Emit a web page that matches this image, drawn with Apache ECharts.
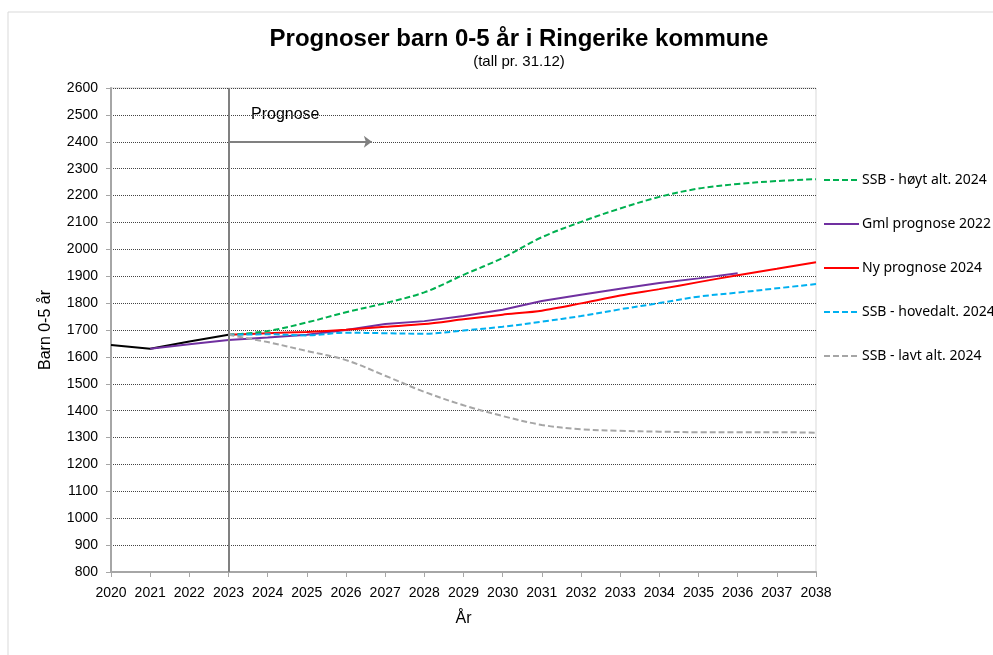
<!DOCTYPE html>
<html>
<head>
<meta charset="utf-8">
<script src="https://cdn.jsdelivr.net/npm/echarts@6/dist/echarts.min.js"></script>
<style>
  html, body { margin: 0; padding: 0; background: #fff; }
  #chart { width: 993px; height: 655px; }
</style>
</head>
<body>
<div id="chart"></div>
<script>
const years = [2020, 2021, 2022, 2023, 2024, 2025, 2026, 2027, 2028, 2029, 2030, 2031, 2032, 2033, 2034, 2035, 2036, 2037, 2038];

// historisk (2020-2023)
const faktisk = [1644, 1630, 1657, 1682];
// Gml prognose 2022 (2021-2036)
const gmlPrognose = [null, 1630, 1647, 1663, 1672, 1682, 1700, 1722, 1733, 1752, 1775, 1808, 1831, 1853, 1875, 1892, 1911];
// Ny prognose 2024 (2023-2038)
const nyPrognose = [null, null, null, 1682, 1688, 1693, 1701, 1712, 1722, 1740, 1757, 1772, 1799, 1828, 1852, 1878, 1904, 1928, 1952];
const ssbHoy = [null, null, null, 1682, 1696, 1728, 1766, 1800, 1840, 1905, 1968, 2045, 2102, 2152, 2195, 2226, 2243, 2254, 2261];
const ssbHoved = [null, null, null, 1682, 1684, 1680, 1690, 1688, 1686, 1698, 1712, 1731, 1752, 1777, 1800, 1824, 1839, 1855, 1871];
const ssbLav = [null, null, null, 1682, 1655, 1622, 1588, 1530, 1470, 1420, 1380, 1347, 1331, 1325, 1322, 1320, 1320, 1320, 1318];

const pairs = arr => years.slice(0, arr.length).map((y, i) => [y, arr[i]]).filter(p => p[1] !== null);

const font = 'Liberation Sans, Arial, sans-serif';
const chart = echarts.init(document.getElementById('chart'));

const dashed = (name, color, data) => ({
  name: name,
  type: 'line',
  data: pairs(data),
  smooth: 0.35,
  symbol: 'none',
  lineStyle: { color: color, width: 2, type: [6, 3] },
  itemStyle: { color: color }
});

let option = {
  animation: false,
  title: {
    text: 'Prognoser barn 0-5 år i Ringerike kommune',
    subtext: '(tall pr. 31.12)',
    left: 514,
    top: 22,
    textAlign: 'center',
    itemGap: 3,
    textStyle: { fontFamily: font, fontSize: 24, fontWeight: 'bold', color: '#000' },
    subtextStyle: { fontFamily: font, fontSize: 15, color: '#000' }
  },
  graphic: [
    { type: 'rect', shape: { x: 8, y: 12, width: 1000, height: 700 }, style: { fill: 'none', stroke: '#d9d9d9', lineWidth: 1 }, silent: true },
    { type: 'text', left: 251, top: 107, style: { text: 'Prognose', fontFamily: font, fontSize: 16, fill: '#000' } }
  ],
  legend: {
    orient: 'vertical',
    left: 823,
    top: 173,
    padding: 0,
    itemWidth: 35,
    itemHeight: 16,
    itemGap: 30,
    itemStyle: { opacity: 0 },
    textStyle: { fontFamily: 'Noto Sans, Open Sans, sans-serif', fontSize: 14, color: '#000', padding: [0, 0, 0, -2] },
    data: ['SSB - høyt alt. 2024', 'Gml prognose 2022', 'Ny prognose 2024', 'SSB - hovedalt. 2024', 'SSB - lavt alt. 2024']
  },
  grid: { left: 111, right: 177, top: 88, bottom: 83, containLabel: false, show: true, borderColor: '#d9d9d9', borderWidth: 1 },
  xAxis: {
    type: 'value',
    min: 2020,
    max: 2038,
    interval: 1,
    name: 'År',
    nameLocation: 'middle',
    nameGap: 39,
    nameTextStyle: { fontFamily: font, fontSize: 16, color: '#000' },
    axisLine: { show: true, lineStyle: { color: '#a6a6a6', width: 2 } },
    axisTick: { show: true, length: 5, lineStyle: { color: '#a6a6a6' } },
    axisLabel: { fontFamily: font, fontSize: 14, color: '#000', margin: 14, formatter: v => String(v) },
    splitLine: { show: false }
  },
  yAxis: {
    type: 'value',
    min: 800,
    max: 2600,
    interval: 100,
    name: 'Barn 0-5 år',
    nameLocation: 'middle',
    nameGap: 57,
    nameTextStyle: { fontFamily: font, fontSize: 16, color: '#000' },
    axisLine: { show: true, lineStyle: { color: '#a6a6a6', width: 2 } },
    axisTick: { show: true, length: 5, lineStyle: { color: '#a6a6a6' } },
    axisLabel: { fontFamily: font, fontSize: 14, color: '#000', margin: 13, formatter: v => String(v) },
    splitLine: { show: true, lineStyle: { color: '#444', width: 1, type: [1, 1] } }
  },
  series: [
    {
      name: 'Faktisk',
      type: 'line',
      data: pairs(faktisk),
      symbol: 'none',
      lineStyle: { color: '#000', width: 2 },
      itemStyle: { color: '#000' },
      markLine: {
        silent: true,
        symbol: 'none',
        label: { show: false },
        lineStyle: { color: '#808080', width: 2, type: 'solid' },
        data: [
          [{ coord: [2023, 800] }, { coord: [2023, 2600] }],
          [{ coord: [2023, 2400], symbol: 'none' }, { coord: [2026.66, 2400], symbol: 'arrow', symbolSize: [9, 8] }]
        ]
      }
    },
    {
      name: 'Gml prognose 2022',
      type: 'line',
      data: pairs(gmlPrognose),
      symbol: 'none',
      lineStyle: { color: '#7030a0', width: 2 },
      itemStyle: { color: '#7030a0' }
    },
    {
      name: 'Ny prognose 2024',
      type: 'line',
      data: pairs(nyPrognose),
      smooth: 0.25,
      symbol: 'none',
      lineStyle: { color: '#ff0000', width: 2 },
      itemStyle: { color: '#ff0000' }
    },
    dashed('SSB - høyt alt. 2024', '#00b050', ssbHoy),
    dashed('SSB - hovedalt. 2024', '#00b0f0', ssbHoved),
    dashed('SSB - lavt alt. 2024', '#a6a6a6', ssbLav)
  ]
};
chart.setOption(option);
</script>
</body>
</html>
